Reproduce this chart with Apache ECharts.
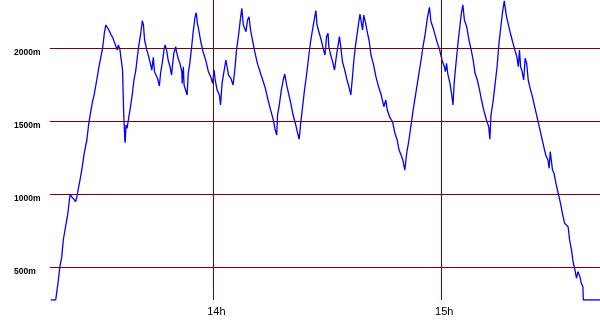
<!DOCTYPE html>
<html>
<head>
<meta charset="utf-8">
<script src="https://cdn.jsdelivr.net/npm/echarts@6/dist/echarts.min.js"></script>
<style>
html,body{margin:0;padding:0;background:#fff;}
#chart{width:600px;height:330px;}
</style>
</head>
<body>
<div id="chart"></div>
<script>
// time in minutes after 13:00
var times = [17.2,18.5,18.8,19.2,19.6,20.1,20.5,21.1,21.7,22.1,22.3,22.8,23.3,23.7,24.0,24.4,24.9,25.5,26.0,26.7,27.1,27.5,28.1,28.7,29.3,29.9,30.4,30.9,31.3,31.7,32.1,32.5,33.1,33.5,33.9,34.4,34.7,35.0,35.4,35.9,36.1,36.4,36.7,36.8,37.0,37.3,37.7,38.2,38.7,39.1,39.6,40.0,40.4,40.9,41.3,41.6,41.9,42.5,43.0,43.5,43.8,44.2,44.5,44.9,45.3,45.8,46.1,46.6,47.0,47.3,47.7,48.1,48.6,49.0,49.3,49.6,50.1,50.3,50.8,51.2,51.7,51.8,52.1,52.3,52.8,53.1,53.4,53.8,54.3,54.7,55.2,55.5,55.8,56.0,56.7,57.3,58.1,58.7,59.3,59.8,60.2,60.5,61.0,61.6,61.9,62.3,62.8,63.3,63.7,64.0,64.6,65.2,65.7,66.1,66.7,67.2,67.5,67.9,68.6,69.0,69.4,69.8,70.3,71.0,71.6,72.3,73.0,73.7,74.4,75.1,75.8,76.3,76.7,76.9,77.3,77.9,78.4,78.8,79.3,79.8,80.4,81.0,81.7,82.2,82.6,83.0,83.5,84.0,84.6,85.1,85.6,86.1,86.7,87.0,87.3,87.9,88.4,88.9,89.4,89.8,90.2,90.4,90.9,91.4,91.9,92.5,93.0,93.2,93.6,94.0,94.6,95.2,95.8,96.2,96.6,97.0,97.5,98.0,98.6,99.1,99.3,99.6,100.1,100.6,101.0,101.5,102.1,102.8,103.5,104.2,104.9,105.4,105.8,106.5,107.2,107.8,108.4,108.9,109.6,110.0,110.4,110.9,111.5,112.0,112.6,113.3,114.0,114.7,115.2,115.8,116.4,116.9,117.3,117.9,118.5,119.0,119.6,120.2,120.8,121.1,121.4,121.7,122.3,122.7,123.1,123.4,123.8,124.4,124.9,125.3,125.7,126.1,126.7,127.3,127.9,128.4,128.9,129.5,130.0,130.6,131.2,131.9,132.5,132.8,133.1,133.7,134.2,134.7,135.2,135.7,136.1,136.6,136.8,137.2,137.7,138.2,138.8,139.4,139.9,140.3,140.6,140.9,141.3,141.7,142.1,142.5,142.9,143.4,144.0,144.6,145.2,145.8,146.4,147.0,147.5,148.1,148.4,148.7,149.0,149.3,149.7,150.2,150.8,151.4,151.9,152.5,153.0,153.4,153.8,154.3,154.7,155.2,155.6,156.0,156.5,156.9,157.3,157.4,161.8];
// altitude in metres
var altitudes = [276,276,333,413,504,573,687,778,870,961,1000,980,966,949,973,1030,1098,1189,1281,1372,1463,1532,1623,1692,1783,1874,1942,2011,2103,2160,2171,2125,2091,2075,2045,2011,1988,2023,1993,1984,1851,1555,1372,1353,1475,1452,1521,1600,1692,1783,1851,1942,2023,2103,2189,2160,2057,1988,1942,1886,1851,1938,1840,1833,1795,1742,1829,1908,1988,2023,1988,1920,1874,1817,1897,1966,2011,1977,1925,1897,1840,1760,1874,1749,1737,1680,1829,1897,2011,2114,2216,2244,2171,2148,2045,1977,1908,1840,1806,1760,1851,1783,1714,1680,1612,1760,1840,1920,1932,1817,1795,1749,1863,1988,2103,2216,2274,2160,2114,2194,2216,2125,2057,1966,1897,1840,1783,1726,1646,1577,1509,1440,1406,1543,1600,1714,1783,1824,1749,1692,1623,1543,1475,1418,1377,1486,1600,1714,1829,1942,2045,2125,2216,2258,2160,2103,2057,2000,1954,2080,2103,2011,1954,1908,1851,1966,2045,2080,2000,1908,1851,1783,1726,1680,1795,1920,2034,2125,2235,2228,2125,2228,2171,2103,2057,1954,1897,1806,1737,1680,1600,1646,1577,1525,1497,1418,1372,1303,1258,1223,1166,1281,1372,1463,1577,1692,1806,1920,2011,2103,2216,2281,2182,2137,2080,2034,1988,1920,1874,1840,1897,1829,1760,1692,1612,1760,1874,2034,2148,2240,2297,2194,2148,2057,1988,1920,1829,1783,1726,1646,1577,1509,1463,1377,1543,1646,1760,1874,2034,2148,2240,2326,2285,2216,2160,2103,2045,1988,1942,1874,1988,1874,1840,1783,1932,1897,1783,1726,1669,1600,1532,1463,1395,1326,1269,1235,1178,1292,1292,1166,1144,1075,1007,938,870,801,812,778,687,618,538,482,425,470,436,390,367,276,276];
var xTickValues = [60, 120];
var xTickLabels = ['14h', '15h'];
var yTickValues = [500, 1000, 1500, 2000];
var yTickLabels = ['500m', '1000m', '1500m', '2000m'];

var data = times.map(function (t, i) { return [t, altitudes[i]]; });
var gridMarks = yTickValues.map(function (v) { return { yAxis: v }; })
  .concat(xTickValues.map(function (v) { return { xAxis: v }; }));

var chart = echarts.init(document.getElementById('chart'), null, { renderer: 'canvas' });
chart.setOption({
  animation: false,
  backgroundColor: '#ffffff',
  grid: { left: 50, right: 0, top: 0, bottom: 30 },
  xAxis: {
    type: 'value', min: 17, max: 161.8,
    axisLine: { show: false }, axisTick: { show: false }, splitLine: { show: false },
    axisLabel: {
      customValues: xTickValues,
      formatter: function (v) { return xTickLabels[xTickValues.indexOf(v)] || ''; },
      fontFamily: 'Liberation Sans', fontSize: 11, color: '#000',
      margin: 6, padding: [0, 0, 0, 6]
    }
  },
  yAxis: {
    type: 'value', min: 276, max: 2331,
    axisLine: { show: false }, axisTick: { show: false }, splitLine: { show: false },
    axisLabel: {
      customValues: yTickValues,
      formatter: function (v) { return yTickLabels[yTickValues.indexOf(v)] || ''; },
      fontFamily: 'Liberation Sans', fontSize: 8.5, fontWeight: 'bold', color: '#000',
      align: 'left', verticalAlign: 'top', margin: 36
    }
  },
  series: [
    {
      type: 'line', data: [], z: 1, silent: true,
      markLine: {
        silent: true, symbol: 'none', animation: false,
        label: { show: false },
        lineStyle: { color: '#800000', width: 1, type: 'solid' },
        emphasis: { disabled: true },
        data: gridMarks
      }
    },
    {
      type: 'line', data: data, z: 3, showSymbol: false, symbol: 'none',
      lineStyle: { color: '#0000ff', width: 1.3 },
      silent: true
    }
  ]
});
</script>
</body>
</html>
